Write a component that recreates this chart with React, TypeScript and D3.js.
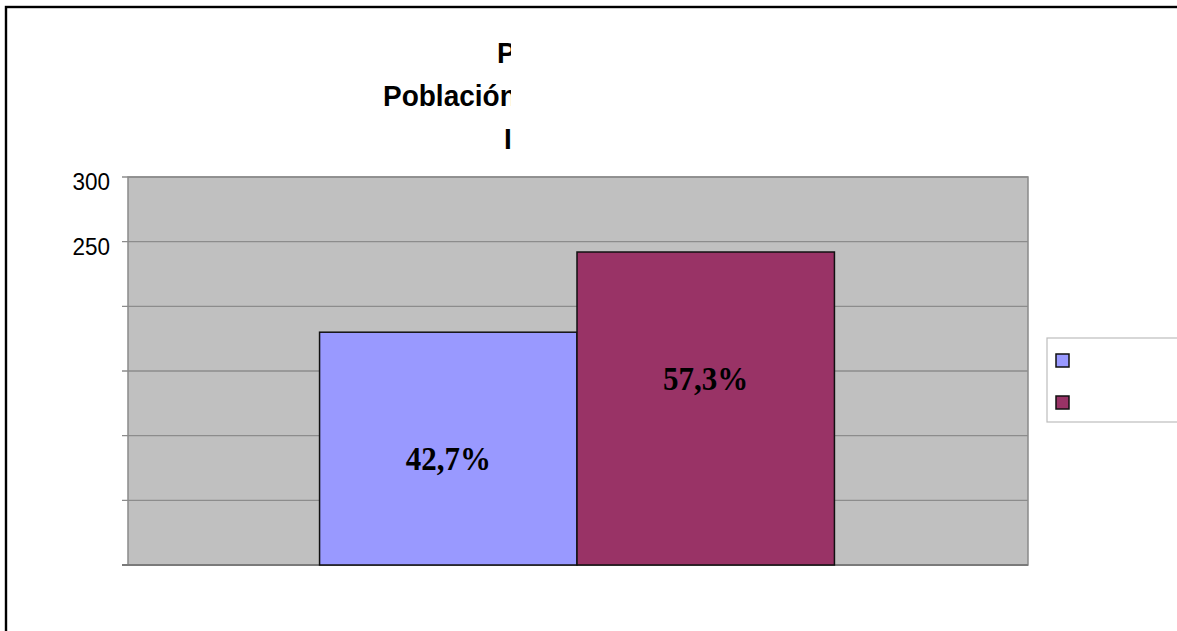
import React, { useEffect, useRef } from 'react';
import * as d3 from 'd3';

// Data
const categories: string[] = [''];
const seriesNames: string[] = ['Hombres', 'Mujeres'];
const seriesValues: number[] = [180, 242];
const seriesLabels: string[] = ['42,7%', '57,3%'];
const seriesColors: string[] = ['#9999ff', '#993366'];
const yTicks: number[] = [0, 50, 100, 150, 200, 250, 300];
const yTickLabels: string[] = ['', '', '', '', '', '250', '300'];
// Title lines (only the left part is visible, the rest is clipped)
const titleLines: string[] = ['P', 'Población', 'I'];

const App: React.FC = () => {
    const ref = useRef<HTMLDivElement>(null);

    useEffect(() => {
        if (!ref.current) return;
        ref.current.innerHTML = '';

        const width = 1177;
        const height = 631;
        const plot = { left: 128, right: 1028, top: 177, bottom: 565 };

        const svg = d3
            .create('svg')
            .attr('width', width)
            .attr('height', height)
            .attr('viewBox', [0, 0, width, height])
            .style('display', 'block')
            .style('font-family', '"Liberation Sans", Arial, sans-serif');

        svg.append('rect').attr('width', width).attr('height', height).attr('fill', '#fff');

        // Outer frame
        svg.append('rect')
            .attr('x', 6)
            .attr('y', 7)
            .attr('width', width + 20)
            .attr('height', height + 20)
            .attr('fill', 'none')
            .attr('stroke', '#000')
            .attr('stroke-width', 2.4);

        // Scales
        const y = d3.scaleLinear().domain([0, 300]).range([plot.bottom, plot.top]);
        const x0 = d3
            .scaleBand<string>()
            .domain(categories)
            .range([plot.left - 1, plot.right - 1])
            .paddingInner(0)
            .paddingOuter(0.374);
        const x1 = d3.scaleBand<string>().domain(seriesNames).range([0, x0.bandwidth()]).padding(0);

        // Plot background
        svg.append('rect')
            .attr('x', plot.left)
            .attr('y', plot.top)
            .attr('width', plot.right - plot.left)
            .attr('height', plot.bottom - plot.top)
            .attr('fill', '#c0c0c0')
            .attr('stroke', '#8a8a8a')
            .attr('stroke-width', 1.5);

        // Gridlines + ticks
        const grid = svg.append('g');
        grid.selectAll('line.grid')
            .data(yTicks)
            .join('line')
            .attr('class', 'grid')
            .attr('x1', plot.left - 6)
            .attr('x2', plot.right)
            .attr('y1', (d) => y(d))
            .attr('y2', (d) => y(d))
            .attr('stroke', (d) => (d === 0 ? '#7a7a7a' : '#8c8c8c'))
            .attr('stroke-width', (d) => (d === 0 ? 2 : 1.3));

        grid.selectAll('text')
            .data(yTicks)
            .join('text')
            .attr('transform', (d) => `translate(110,${y(d) + 13}) scale(1,1.05)`)
            .attr('text-anchor', 'end')
            .attr('font-size', 22.5)
            .attr('fill', '#000')
            .text((_, i) => yTickLabels[i]);

        // Bars
        const g = svg.append('g');
        categories.forEach((cat) => {
            g.selectAll(null)
                .data(seriesValues)
                .join('rect')
                .attr('x', (_, i) => x0(cat)! + x1(seriesNames[i])!)
                .attr('y', (d) => y(d))
                .attr('width', x1.bandwidth())
                .attr('height', (d) => y(0) - y(d))
                .attr('fill', (_, i) => seriesColors[i])
                .attr('stroke', '#111')
                .attr('stroke-width', 1.5);

            g.selectAll(null)
                .data(seriesValues)
                .join('text')
                .attr(
                    'transform',
                    (d, i) =>
                        `translate(${x0(cat)! + x1(seriesNames[i])! + x1.bandwidth() / 2},${y(d) + 138}) scale(1,1.12)`
                )
                .attr('text-anchor', 'middle')
                .attr('font-family', '"Liberation Serif", "Times New Roman", serif')
                .attr('font-weight', 'bold')
                .attr('font-size', 31)
                .attr('fill', '#000')
                .text((_, i) => seriesLabels[i]);
        });

        // Title, clipped at the right
        const clip = svg.append('clipPath').attr('id', 'title-clip');
        clip.append('rect').attr('x', 0).attr('y', 0).attr('width', 511).attr('height', 170);
        const title = svg.append('g').attr('clip-path', 'url(#title-clip)');
        const titleX = [497, 383, 504];
        title.selectAll('text')
            .data(titleLines)
            .join('text')
            .attr('transform', (_, i) => `translate(${titleX[i]},${63 + i * 43}) scale(1,1.06)`)
            .attr('font-size', 28)
            .attr('font-weight', 'bold')
            .attr('fill', '#000')
            .text((d) => d);

        // Legend (text clipped off to the right)
        const legend = svg.append('g').attr('transform', 'translate(1047,338)');
        legend.append('rect')
            .attr('width', 160)
            .attr('height', 84)
            .attr('fill', '#fff')
            .attr('stroke', '#bdbdbd')
            .attr('stroke-width', 1.2);
        legend.selectAll('rect.sw')
            .data(seriesNames)
            .join('rect')
            .attr('class', 'sw')
            .attr('x', 9)
            .attr('y', (_, i) => 16 + i * 42)
            .attr('width', 13)
            .attr('height', 13)
            .attr('fill', (_, i) => seriesColors[i])
            .attr('stroke', '#111')
            .attr('stroke-width', 1.5);

        ref.current.appendChild(svg.node()!);
    }, []);

    return <div ref={ref} style={{ position: 'absolute', left: 0, top: 0 }} />;
};

export default App;
